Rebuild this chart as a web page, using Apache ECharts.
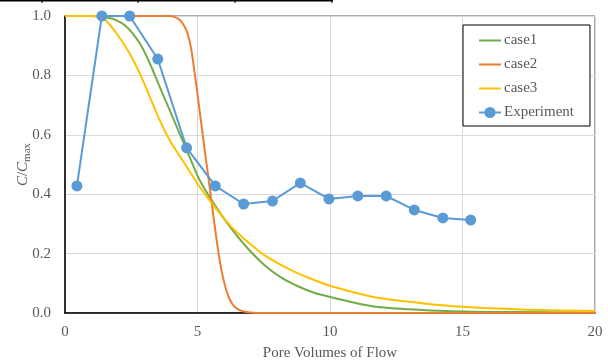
<!DOCTYPE html>
<html>
<head>
<meta charset="utf-8">
<script src="https://cdn.jsdelivr.net/npm/echarts@6/dist/echarts.min.js"></script>
<style>
  html, body { margin: 0; padding: 0; background: #fff; }
  #chart { width: 608px; height: 363px; }
</style>
</head>
<body>
<div id="chart"></div>
<script>
// ---- data ----
const legendNames = ['case1', 'case2', 'case3', 'Experiment'];

const case1X = [0, 1.0, 1.3, 1.82, 2.32, 2.82, 3.2, 3.57, 3.95, 4.32, 4.7, 5.08, 5.64, 6.27, 6.89, 7.52, 8.15, 8.77, 9.4, 10.09, 11.59, 13.47, 15.0, 17.0, 20.0];
const case1Y = [1, 1, 0.998, 0.99, 0.964, 0.908, 0.841, 0.762, 0.683, 0.605, 0.526, 0.448, 0.365, 0.285, 0.218, 0.162, 0.12, 0.091, 0.068, 0.052, 0.023, 0.01, 0.005, 0.003, 0.002];

const case2X = [0, 3.95, 4.15, 4.35, 4.51, 4.63, 4.76, 4.89, 5.01, 5.14, 5.27, 5.39, 5.55, 5.7, 5.85, 6.0, 6.15, 6.3, 6.5, 6.75, 7.1, 8.0, 20.0];
const case2Y = [1, 1, 0.996, 0.985, 0.965, 0.94, 0.89, 0.81, 0.73, 0.64, 0.55, 0.47, 0.36, 0.26, 0.17, 0.105, 0.06, 0.032, 0.014, 0.005, 0.001, 0, 0];

const case3X = [0, 1.0, 1.44, 1.94, 2.44, 2.82, 3.2, 3.57, 3.95, 4.45, 5.08, 5.64, 6.27, 6.89, 7.52, 8.15, 8.77, 9.4, 10.09, 11.59, 13.47, 14.97, 17.23, 20.0];
const case3Y = [1, 1, 0.993, 0.942, 0.874, 0.807, 0.728, 0.65, 0.582, 0.512, 0.425, 0.358, 0.291, 0.24, 0.195, 0.162, 0.134, 0.111, 0.089, 0.055, 0.033, 0.021, 0.012, 0.007];

const expX = [0.45, 1.39, 2.44, 3.5, 4.59, 5.67, 6.74, 7.83, 8.88, 9.96, 11.05, 12.12, 13.18, 14.26, 15.31];
const expY = [0.428, 1.0, 1.0, 0.855, 0.556, 0.428, 0.367, 0.377, 0.438, 0.384, 0.394, 0.394, 0.347, 0.32, 0.313];

const xTicks = [0, 5, 10, 15, 20];
const yTicks = ['0.0', '0.2', '0.4', '0.6', '0.8', '1.0'];

const xTitle = 'Pore Volumes of Flow';

// ---- build ----
function zip(xs, ys) { return xs.map((x, i) => [x, ys[i]]); }

const FONT = '"Liberation Serif", "Times New Roman", serif';
const GRAY = '#595959';
const COLORS = ['#70ad47', '#ed7d31', '#ffc000', '#5b9bd5'];

const chart = echarts.init(document.getElementById('chart'), null, { renderer: 'canvas' });

function curve(i, xs, ys) {
  return {
    type: 'line', name: legendNames[i], data: zip(xs, ys),
    symbol: 'none', showSymbol: false, smooth: 0.3, z: 2,
    itemStyle: { color: COLORS[i] }, lineStyle: { color: COLORS[i], width: 2 }
  };
}

chart.setOption({
  animation: false,
  backgroundColor: '#fff',
  grid: {
    left: 65, right: 13, top: 16, bottom: 50,
    outerBoundsMode: 'none', containLabel: false,
    show: true, borderColor: GRAY, borderWidth: 1, backgroundColor: 'transparent'
  },
  legend: {
    data: legendNames.map((n, i) => i < 3 ? { name: n, itemStyle: { opacity: 0 } } : { name: n }),
    orient: 'vertical',
    left: 463,
    top: 25,
    backgroundColor: '#fff',
    borderColor: '#000',
    borderWidth: 1,
    borderRadius: 0,
    padding: [8, 16, 6, 15],
    itemGap: 9,
    itemWidth: 22,
    itemHeight: 14,
    textStyle: { fontFamily: FONT, fontSize: 15, color: GRAY, padding: [0, 0, 0, -2] }
  },
  xAxis: {
    type: 'value',
    min: xTicks[0], max: xTicks[xTicks.length - 1], interval: xTicks[1] - xTicks[0],
    name: xTitle,
    nameLocation: 'middle',
    nameGap: 33,
    nameMoveOverlap: false,
    nameTextStyle: { fontFamily: FONT, fontSize: 15, color: GRAY },
    axisLine: { show: true, lineStyle: { color: '#000', width: 1.5 } },
    axisTick: { show: false },
    axisLabel: { fontFamily: FONT, fontSize: 15, color: GRAY, margin: 12 },
    splitLine: { show: true, lineStyle: { color: '#d9d9d9', width: 1 } }
  },
  yAxis: {
    type: 'value',
    min: 0, max: 1, interval: 0.2,
    name: '{i|C}{n|/}{i|C}{s|max}',
    nameLocation: 'middle',
    nameRotate: 90,
    nameGap: 32,
    nameMoveOverlap: false,
    nameTextStyle: {
      fontFamily: FONT, fontSize: 15, color: GRAY,
      rich: {
        i: { fontFamily: FONT, fontSize: 15, fontStyle: 'italic', color: GRAY, lineHeight: 20, verticalAlign: 'middle' },
        n: { fontFamily: FONT, fontSize: 15, color: GRAY, lineHeight: 20, verticalAlign: 'middle' },
        s: { fontFamily: FONT, fontSize: 11, color: GRAY, lineHeight: 11, verticalAlign: 'bottom' }
      }
    },
    axisLine: { show: true, lineStyle: { color: '#000', width: 1.5 } },
    axisTick: { show: false },
    axisLabel: { fontFamily: FONT, fontSize: 15, color: GRAY, margin: 14, formatter: v => yTicks[Math.round(v / 0.2)] },
    splitLine: { show: true, lineStyle: { color: '#d9d9d9', width: 1 } }
  },
  graphic: [
    { type: 'line', shape: { x1: 0, y1: 0.5, x2: 333, y2: 0.5 }, style: { stroke: '#000', lineWidth: 2 }, silent: true },
    { type: 'line', shape: { x1: 42, y1: 0, x2: 42, y2: 3 }, style: { stroke: '#000', lineWidth: 1 }, silent: true },
    { type: 'line', shape: { x1: 138, y1: 0, x2: 138, y2: 3 }, style: { stroke: '#000', lineWidth: 1 }, silent: true },
    { type: 'line', shape: { x1: 235, y1: 0, x2: 235, y2: 3 }, style: { stroke: '#000', lineWidth: 1 }, silent: true },
    { type: 'line', shape: { x1: 332, y1: 0, x2: 332, y2: 3 }, style: { stroke: '#000', lineWidth: 1 }, silent: true }
  ],
  series: [
    curve(0, case1X, case1Y),
    curve(1, case2X, case2Y),
    curve(2, case3X, case3Y),
    {
      type: 'line', name: legendNames[3], data: zip(expX, expY),
      symbol: 'circle', symbolSize: 11, showSymbol: true, z: 3,
      itemStyle: { color: COLORS[3] }, lineStyle: { color: COLORS[3], width: 2 }
    }
  ]
});
</script>
</body>
</html>
